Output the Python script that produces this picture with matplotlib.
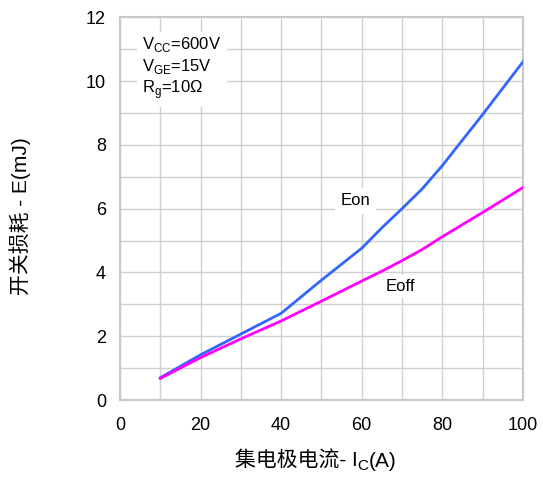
import numpy as np
import matplotlib.pyplot as plt
from matplotlib.transforms import offset_copy

plt.rcParams['font.family'] = ['Liberation Sans', 'Noto Sans CJK SC', 'DejaVu Sans']
plt.rcParams['mathtext.fontset'] = 'custom'
plt.rcParams['mathtext.rm'] = 'Liberation Sans'

# data
ic = [10, 20, 30, 40, 50, 60, 65, 70, 75, 80, 90, 100]
eon = [0.70, 1.42, 2.07, 2.72, 3.76, 4.76, 5.40, 6.00, 6.62, 7.35, 8.95, 10.60]
eoff = [0.68, 1.33, 1.92, 2.48, 3.10, 3.73, 4.04, 4.37, 4.72, 5.12, 5.88, 6.66]

fig = plt.figure(figsize=(5.43, 4.78), dpi=100)
ax = fig.add_axes([0.221, 0.163, 0.742, 0.801])

ax.plot(ic, eon, color='#3366ff', lw=2, zorder=3)
ax.plot(ic, eoff, color='#ff00ff', lw=2, zorder=3)

ax.set_xlim(0, 100)
ax.set_ylim(0, 12)
ax.set_xticks(np.arange(0, 101, 20))
ax.set_yticks(np.arange(0, 13, 2))
ax.set_xticks(np.arange(0, 101, 10), minor=True)
ax.set_yticks(np.arange(0, 13, 1), minor=True)
ax.grid(which='both', color='#d0d0d0', lw=1)
ax.tick_params(which='both', length=0, labelsize=13)
ax.tick_params(axis='x', pad=12)
ax.tick_params(axis='y', pad=10)
for s in ax.spines.values():
    s.set_color('#c8c8c8')
    s.set_linewidth(1.5)

ax.set_ylabel('开关损耗 - E(mJ)', fontsize=15)
ax.yaxis.set_label_coords(-0.222, 0.48)

# x label built in pieces so the CJK glyphs and the subscript both work
x0, y0 = 0.285, -0.175
t1 = ax.text(x0, y0, '集电极电流- I', transform=ax.transAxes, fontsize=15,
             ha='left', va='baseline')
fig.canvas.draw()
r = fig.canvas.get_renderer()
w1 = t1.get_window_extent(r).width
t2 = ax.text(x0, y0, 'C', fontsize=11, ha='left', va='baseline',
             transform=offset_copy(ax.transAxes, fig, x=w1, y=-3, units='dots'))
w2 = t2.get_window_extent(r).width
ax.text(x0, y0, '(A)', fontsize=15, ha='left', va='baseline',
        transform=offset_copy(ax.transAxes, fig, x=w1 + w2, y=0, units='dots'))

ax.text(5.5, 11.45, 'V$_{\\mathregular{CC}}$=600V\nV$_{\\mathregular{GE}}$=15V\nR$_{\\mathregular{g}}$=10Ω',
        fontsize=12, va='top', ha='left', linespacing=1.2,
        bbox=dict(facecolor='white', edgecolor='none', pad=4), zorder=4)
ax.text(58.5, 6.25, 'Eon', fontsize=12, ha='center', va='center',
        bbox=dict(facecolor='white', edgecolor='none', pad=4), zorder=4)
ax.text(69.5, 3.55, 'Eoff', fontsize=12, ha='center', va='center',
        bbox=dict(facecolor='white', edgecolor='none', pad=3), zorder=4)

fig.savefig('out.png', dpi=100)
